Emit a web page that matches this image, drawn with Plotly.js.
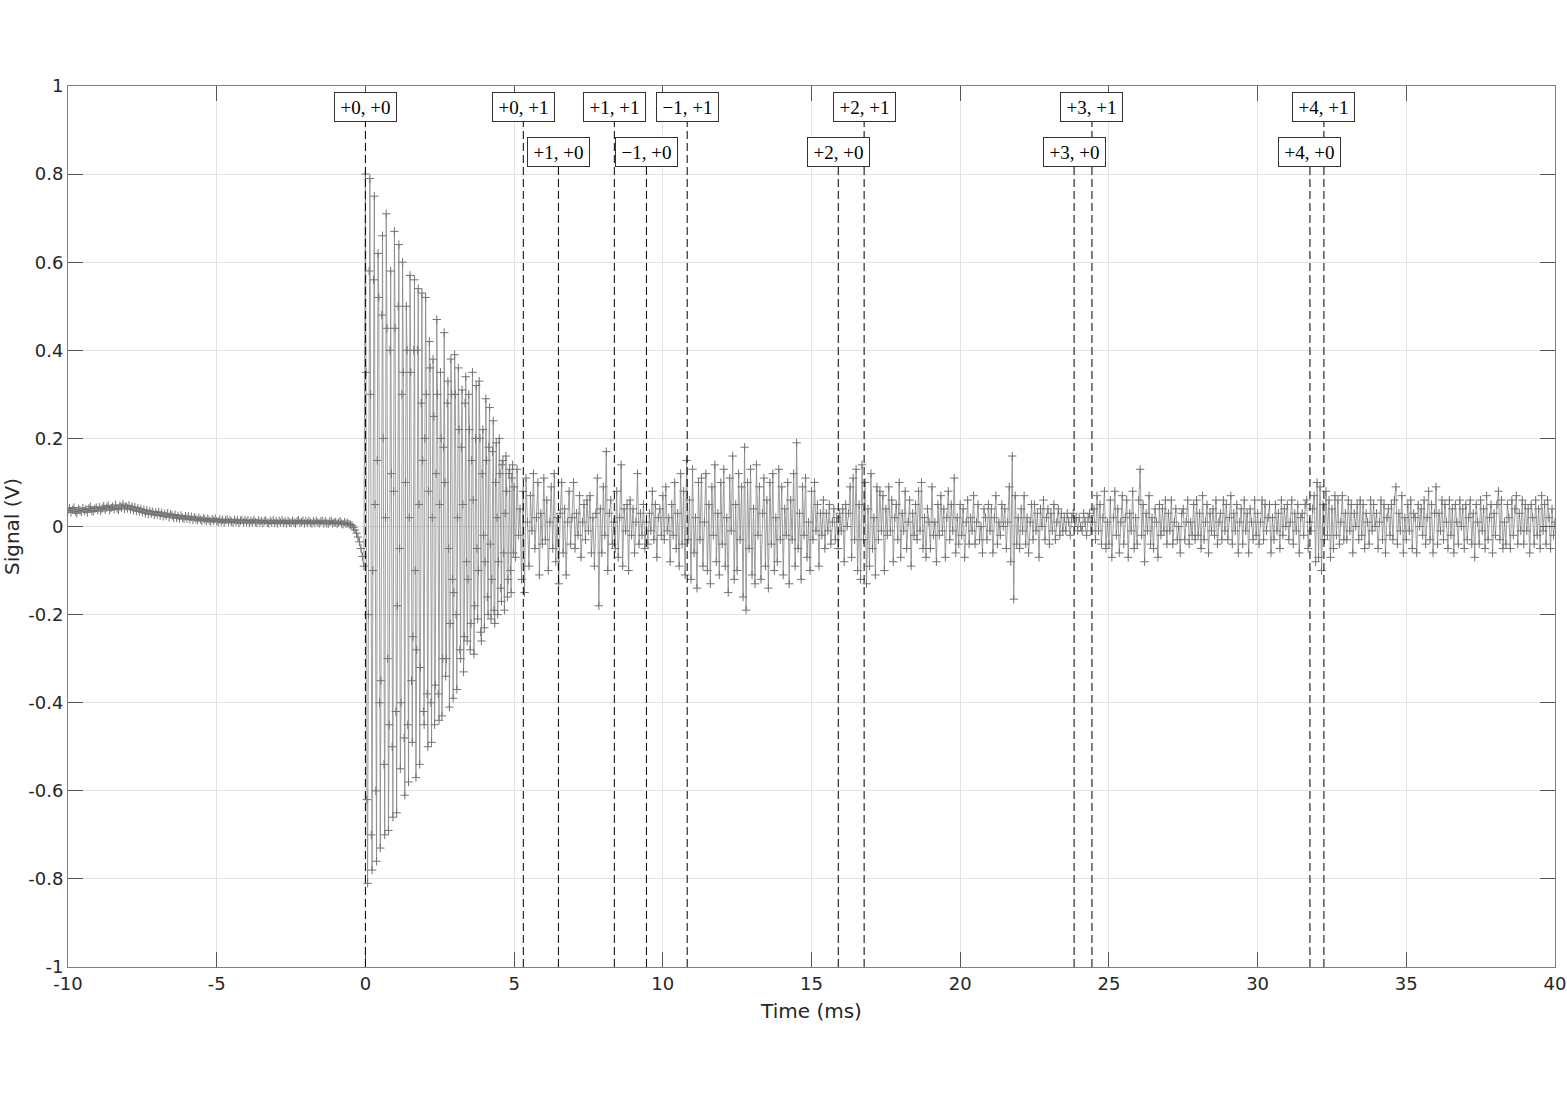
<!DOCTYPE html>
<html>
<head>
<meta charset="utf-8">
<script src="https://cdn.plot.ly/plotly-3.0.1.min.js"></script>
<style>html,body{margin:0;padding:0;background:#fff;}#chart{width:1567px;height:1100px;}</style>
</head>
<body>
<div id="chart"></div>
<script>
// Sampling (ms)
const dtPre = 0.05, dtRing = 0.025, dtTail = 0.05;
const tPreStart = -10;
const tRingStart = 0;
const tTailStart = 5;

// Pre-trigger baseline, -10 .. -0.05 ms
const sigPre = [
.036,.041,.032,.038,.043,.034,.030,.040,.037,.033,
.042,.035,.039,.032,.041,.045,.036,.034,.040,.043,
.037,.044,.035,.041,.046,.038,.043,.048,.037,.042,
.045,.039,.049,.041,.038,.047,.042,.051,.040,.046,
.041,.048,.039,.045,.037,.044,.035,.042,.034,.040,
.032,.038,.030,.037,.028,.035,.029,.034,.026,.032,
.027,.033,.025,.031,.023,.029,.024,.030,.021,.028,
.025,.020,.027,.019,.024,.018,.025,.020,.017,.023,
.018,.023,.016,.022,.015,.021,.017,.014,.020,.016,
.013,.019,.016,.012,.018,.014,.011,.017,.013,.018,
.012,.010,.016,.011,.015,.009,.014,.016,.010,.015,
.011,.009,.015,.010,.014,.008,.013,.015,.009,.014,
.010,.014,.008,.013,.009,.015,.010,.008,.014,.009,
.013,.008,.012,.014,.009,.007,.013,.009,.014,.008,
.012,.007,.013,.009,.014,.008,.012,.007,.013,.009,
.008,.013,.009,.007,.012,.014,.008,.010,.013,.007,
.012,.008,.013,.009,.007,.012,.008,.013,.009,.007,
.011,.013,.007,.012,.008,.006,.011,.013,.007,.009,
.010,.006,.009,.012,.007,.005,.010,.006,.008,.005,
.004,.002,-.002,-.008,-.015,-.024,-.035,-.050,-.068,-.090
];

// Ring-down, 0 .. 4.975 ms
const sigRing = [
.80,.35,-.62,-.81,-.20,.58,.79,.30,-.70,-.78,
-.10,.56,.75,.05,-.60,-.76,.15,.62,.52,-.40,
-.73,-.35,.48,.66,.20,-.54,-.70,.02,.71,.45,
-.30,-.69,-.45,.40,.58,.12,-.50,-.66,.08,.67,
.45,-.42,-.65,-.18,.50,.64,-.05,-.55,-.40,.30,
.60,.35,-.48,-.61,.10,.50,.40,-.45,-.58,.02,
.57,.35,-.35,-.49,-.25,.40,.56,-.10,-.57,-.28,
.40,.54,.05,-.54,-.32,.28,.53,.15,-.42,-.45,
.20,.52,.30,-.38,-.50,.08,.42,.36,-.40,-.49,
.02,.38,.25,-.45,-.36,.12,.47,.30,-.38,-.44,
.05,.35,.20,-.43,-.30,.18,.44,.10,-.34,-.30,
.28,.33,-.05,-.41,-.22,.38,.30,-.12,-.39,-.15,
.39,.30,-.20,-.37,.02,.36,.22,-.28,-.30,.18,
.31,.05,-.33,-.25,.28,.34,-.08,-.26,-.12,.30,
.22,-.28,-.22,.15,.35,.06,-.29,-.18,.20,.32,
-.05,-.21,-.10,.33,.20,-.24,-.26,.12,.22,-.02,
-.23,-.08,.29,.15,-.16,-.20,.18,.27,-.04,-.21,
-.12,.17,.24,-.19,-.22,.10,.19,.02,-.20,-.08,
.20,.12,-.14,-.17,.14,.15,-.06,-.19,.03,.16,
.08,-.16,-.12,.12,.13,-.10,-.15,.11,.14,-.06
];

// Residual signal, 5 .. 40 ms
const sigTail = [
.09,-.07,.13,-.02,.04,-.12,.08,-.15,.11,.01,
-.09,.07,-.01,.12,-.05,.02,.10,-.11,.03,-.04,
.11,-.03,.06,-.10,.01,.09,-.05,.12,-.08,.02,
-.13,.03,.10,-.06,.04,-.11,.01,.08,-.04,.02,
.10,-.05,.03,-.02,.07,-.07,.01,.05,-.03,.06,
-.01,.07,-.06,.02,-.09,.03,.11,-.18,.04,-.06,
.09,-.02,.17,-.10,.03,.06,-.04,.01,-.05,.08,
-.07,.02,.14,-.09,.04,-.01,.05,-.10,.06,-.02,
.04,-.06,.01,.12,-.04,.03,-.02,.05,-.05,.01,
-.04,.03,-.01,.08,-.03,.05,-.07,.02,.04,-.02,
.07,-.03,.09,-.01,.02,-.08,.05,-.02,.10,-.05,
.03,-.09,.12,-.04,.08,-.11,.15,-.03,.06,-.12,
.13,-.06,.02,-.14,.10,-.03,.11,-.09,.01,.12,
-.10,.05,-.13,.09,-.02,.14,-.08,.03,-.11,.10,
-.04,.13,-.09,.02,-.15,.11,-.01,.16,-.12,.05,
-.10,.12,-.03,.09,-.16,.18,-.19,.10,-.05,.13,
-.11,.04,-.13,.14,-.02,.09,-.12,.03,.11,-.09,
.06,-.14,.10,-.04,.12,-.10,.02,-.08,.13,-.03,
.09,-.11,.04,-.02,.10,-.13,.06,-.03,.12,-.09,
.19,-.05,.03,-.12,.09,-.02,.11,-.07,.01,-.10,
.08,-.03,.10,-.01,.05,-.09,.03,-.02,.06,-.05,
.03,-.01,.05,-.04,.01,.04,-.03,.02,-.05,.03,
-.01,.04,-.08,.05,.00,.03,.09,-.07,.11,-.03,
.13,-.10,.05,-.12,.14,-.03,.10,-.13,.04,-.09,
.12,-.05,.02,-.11,.09,-.03,.08,-.01,.07,-.10,
.04,-.02,.09,-.01,.06,-.08,.02,.05,-.03,.10,
-.07,.03,-.01,.08,-.05,.01,.06,-.09,.03,-.02,
.05,-.03,.08,-.01,.10,-.05,.02,-.07,.04,.01,
-.05,.09,-.02,.01,-.08,.05,-.02,.07,-.01,.04,
-.07,.02,.08,-.03,.05,-.01,.11,-.06,.02,-.04,
.05,-.02,.04,-.07,.01,.06,-.04,.02,-.01,.07,
-.04,.01,.05,-.03,.00,-.06,.04,.02,-.03,.05,
-.01,.04,-.06,.02,.07,-.04,.01,-.02,.05,.00,
.04,-.05,.01,.09,-.08,.16,-.165,.07,-.04,.02,
-.05,.04,-.01,.07,-.04,.02,-.06,.01,.05,-.03,
.05,-.01,.03,-.07,.04,.00,.06,-.03,.02,.04,
-.04,.03,-.01,.05,-.03,.01,.04,-.02,.03,-.01,
.02,-.01,.03,.01,-.02,.02,.03,.00,.02,-.01,
.02,.00,-.01,.03,.01,-.02,.02,.03,-.01,.01,
.04,-.03,.07,-.01,.05,-.04,.02,.08,-.05,.01,
-.04,.06,-.07,.02,.08,-.02,.04,-.06,.01,.07,
-.04,.02,.06,-.07,.03,-.01,.08,-.05,.02,-.04,
.06,.13,-.02,.05,-.08,.03,-.01,.07,-.04,.02,
-.05,.04,.01,-.07,.05,-.02,.04,-.01,.06,-.04,
.03,-.01,.06,-.04,.01,.04,-.03,.00,-.06,.03,
.04,-.03,.01,.06,-.04,.01,-.02,.05,-.03,.06,
-.02,.03,-.05,.07,-.03,.01,.05,-.06,.03,-.01,
.04,-.02,.06,-.04,.01,.03,-.03,.06,-.01,.05,
-.03,.02,.07,-.04,.03,-.01,.05,-.06,.01,.04,
-.04,.06,-.01,.03,-.06,.04,.01,-.03,.06,-.02,
.03,-.04,.01,.06,-.03,.05,-.01,.02,.05,-.06,
.02,-.03,.05,-.01,.03,-.05,.06,-.02,.04,.00,
.05,-.03,.01,.06,-.04,.03,-.01,.05,-.06,.02,
.03,-.02,.05,.06,-.05,.01,-.01,.04,.07,-.08,
.10,-.07,.09,-.10,.05,-.03,.08,-.02,.06,-.07,
.04,-.05,.07,-.02,.06,-.04,.01,.07,-.03,.03,
-.03,.06,-.01,.05,-.06,.03,.00,.05,-.03,.06,
-.02,.05,-.05,.03,.01,-.04,.06,-.01,.05,.00,
.03,-.05,.01,.06,-.03,.05,-.06,.02,.04,-.02,
.05,-.03,.06,.09,-.04,.03,-.01,.07,-.06,.02,
-.03,.05,-.01,.06,-.05,.03,.02,-.06,.05,.00,
.04,-.02,.06,-.04,.02,.08,-.03,.05,-.06,.03,
.09,-.04,.03,-.01,.06,-.03,.05,.01,-.05,.06,
-.02,.04,-.06,.05,.01,-.04,.06,.00,.04,-.05,
.05,-.03,.02,.06,-.04,.03,-.07,.05,.01,-.04,
.06,-.01,.04,-.05,.07,-.03,.02,.05,-.06,.03,
-.02,.05,.08,-.03,.06,-.05,.01,-.04,.05,.02,
-.05,.06,-.02,.04,.07,-.04,.03,-.01,.06,-.04,
.05,-.01,.04,-.06,.05,.02,-.04,.06,-.02,.04,
-.05,.07,-.01,.05,-.04,.06,.02,-.05,.04,-.02,
.01
];

// Mode markers
const modeTimes  = [0, 5.31, 6.49, 8.37, 9.45, 10.82, 15.90, 16.77, 23.83, 24.43, 31.76, 32.23];
const modeLabels = ['+0, +0','+0, +1','+1, +0','+1, +1','\u22121, +0','\u22121, +1','+2, +0','+2, +1','+3, +0','+3, +1','+4, +0','+4, +1'];
const modeRow    = [1, 1, 0, 1, 0, 1, 0, 1, 0, 1, 0, 1]; // 1 = upper row
const rowY = [0.851, 0.952];

// Axis ticks
const xTickVals = [-10, -5, 0, 5, 10, 15, 20, 25, 30, 35, 40];
const xTickText = ['-10','-5','0','5','10','15','20','25','30','35','40'];
const yTickVals = [-1, -0.8, -0.6, -0.4, -0.2, 0, 0.2, 0.4, 0.6, 0.8, 1];
const yTickText = ['-1','-0.8','-0.6','-0.4','-0.2','0','0.2','0.4','0.6','0.8','1'];

// Build time base
function times(start, step, n) { const a = []; for (let i = 0; i < n; i++) a.push(+(start + i * step).toFixed(4)); return a; }
const tAll = [].concat(
  times(tPreStart, dtPre, sigPre.length),
  times(tRingStart, dtRing, sigRing.length),
  times(tTailStart, dtTail, sigTail.length));
const yAll = [].concat(sigPre, sigRing, sigTail);

const trace = {
  x: tAll, y: yAll, type: 'scatter', mode: 'lines+markers',
  line: {color: 'rgb(135,135,135)', width: 0.8},
  marker: {symbol: 'cross-thin-open', size: 6, color: 'rgb(115,115,115)', line: {color: 'rgb(115,115,115)', width: 1}},
  hoverinfo: 'skip', showlegend: false
};

const shapes = modeTimes.map((t, i) => ({
  type: 'line', xref: 'x', yref: 'y', x0: t, x1: t, y0: -1, y1: rowY[modeRow[i]],
  line: {color: '#000', width: 1, dash: '8px,4px'}, layer: 'above'
}));

const annotations = modeTimes.map((t, i) => ({
  x: t, y: rowY[modeRow[i]], xref: 'x', yref: 'y', text: modeLabels[i], showarrow: false,
  xanchor: 'center', yanchor: 'middle',
  font: {family: 'Liberation Serif, serif', size: 19, color: '#000'},
  bgcolor: '#fff', bordercolor: '#333', borderwidth: 1, borderpad: 3, width: 55, height: 22
}));

const axisCommon = {
  showgrid: true, gridcolor: '#e3e3e3', gridwidth: 1, zeroline: false,
  showline: true, linecolor: '#808080', linewidth: 1, mirror: 'ticks',
  ticks: 'inside', ticklen: 15, tickcolor: '#555', tickwidth: 1,
  tickfont: {family: 'DejaVu Sans, sans-serif', size: 18, color: '#262626'},
  tickmode: 'array'
};

const layout = {
  width: 1567, height: 1100,
  margin: {l: 68, r: 12, t: 86, b: 133},
  paper_bgcolor: '#fff', plot_bgcolor: '#fff',
  xaxis: Object.assign({}, axisCommon, {
    range: [-10, 40], tickvals: xTickVals, ticktext: xTickText,
    title: {text: 'Time (ms)', font: {family: 'DejaVu Sans, sans-serif', size: 20, color: '#262626'}, standoff: 11}
  }),
  yaxis: Object.assign({}, axisCommon, {
    range: [-1, 1], tickvals: yTickVals, ticktext: yTickText,
    title: {text: 'Signal (V)', font: {family: 'DejaVu Sans, sans-serif', size: 20, color: '#262626'}, standoff: 4}
  }),
  shapes: shapes, annotations: annotations, showlegend: false
};

Plotly.newPlot('chart', [trace], layout, {displayModeBar: false, staticPlot: true});
</script>
</body>
</html>
